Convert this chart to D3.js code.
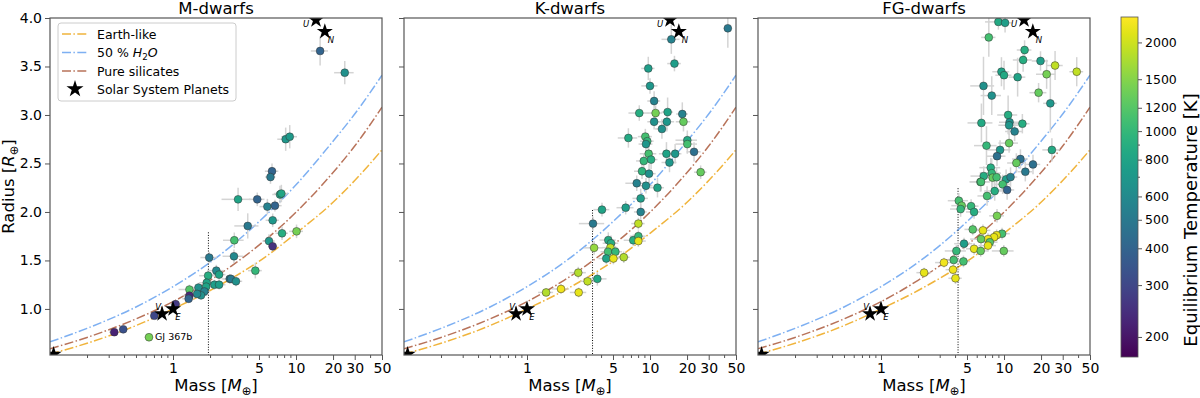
<!DOCTYPE html>
<html><head><meta charset="utf-8">
<script src="https://cdn.jsdelivr.net/npm/d3@7"></script>
<style>
body{margin:0;background:#fff}
svg{display:block}
text{font-family:"DejaVu Sans",sans-serif;fill:#000}
</style>
</head><body>
<svg id="c" width="1200" height="398"></svg>
<script>
// ---------------- data ----------------
const panelTitles = ["M-dwarfs", "K-dwarfs", "FG-dwarfs"];
const massTicks = [1, 5, 10, 20, 30, 50];
const massMinorTicks = [0.2,0.3,0.4,0.5,0.6,0.7,0.8,0.9,2,3,4,6,7,8,9,40];
const radiusTicks = [1.0, 1.5, 2.0, 2.5, 3.0, 3.5, 4.0];
const tempTicks = [200, 300, 400, 500, 600, 800, 1000, 1200, 1500, 2000];
const tempMinorTicks = [700, 900];

// composition models (mass, radius)
const modelMass = [0.1, 0.2, 0.5, 1, 2, 3, 5, 10, 20, 30, 50];
const earthLike = [0.535, 0.646, 0.828, 1.0, 1.19, 1.316, 1.49, 1.78, 2.1, 2.324, 2.64];
const water50   = [0.66, 0.80, 1.02, 1.23, 1.48, 1.653, 1.90, 2.28, 2.73, 3.01, 3.41];
const silicates = [0.59, 0.706, 0.897, 1.075, 1.295, 1.445, 1.658, 1.997, 2.407, 2.68, 3.08];

// solar system planets
const solarLabels = ["", "V", "E", "U", "N"];
const solarMass   = [0.107, 0.815, 1.0, 14.54, 17.15];
const solarRadius = [0.532, 0.949, 1.0, 3.98, 3.86];

// vertical dotted cut per panel
const cutMass = [1.94, 3.41, 4.23];
const cutTop  = [1.79, 2.02, 2.245];

// planets: [mass, radius, Teq, massErr, radiusErr]
const mDwarfs = [
 [8.24,2.75,700,1.2,0.12],[8.89,2.776,720,1.3,0.12],[6.38,2.42,400,0.8,0.08],[6.2,2.36,500,0.6,0.07],
 [3.38,2.13,800,0.9,0.12],[4.84,2.13,400,0.7,0.07],[5.85,2.055,550,0.8,0.08],[6.74,2.065,400,0.9,0.06],
 [7.41,2.18,800,1.0,0.09],[7.6,2.19,820,1.0,0.09],[4.05,1.856,500,0.9,0.13],[6.46,1.914,700,0.8,0.07],
 [3.15,1.708,1100,0.6,0.08],[10.1,1.80,1400,1.3,0.07],[7.7,1.78,900,0.9,0.07],[6.03,1.70,700,0.7,0.07],
 [6.46,1.646,250,0.5,0.05],[3.13,1.543,600,0.6,0.07],[1.97,1.53,500,0.3,0.06],[4.67,1.395,1000,0.6,0.08],
 [2.25,1.395,600,0.35,0.06],[2.37,1.354,800,0.3,0.05],[1.93,1.343,900,0.3,0.05],[1.88,1.27,800,0.25,0.05],
 [2.17,1.25,750,0.3,0.05],[2.37,1.25,750,0.3,0.05],[2.89,1.31,500,0.4,0.05],[2.96,1.31,500,0.4,0.05],
 [3.25,1.285,650,0.4,0.05],[1.86,1.23,800,0.25,0.05],[1.61,1.22,650,0.25,0.05],[1.36,1.2,1200,0.25,0.05],
 [1.8,1.18,550,0.2,0.04],[1.69,1.14,650,0.2,0.04],[1.57,1.155,600,0.2,0.04],[1.36,1.137,230,0.15,0.04],
 [1.34,1.105,400,0.15,0.03],[1.05,1.05,270,0.1,0.03],[0.705,0.93,300,0.05,0.02],[0.333,0.76,220,0.03,0.02],
 [0.394,0.79,330,0.03,0.02],[0.638,0.708,1400,0.05,0.02],[15.7,3.66,400,2.5,0.15],[24.9,3.436,650,4.5,0.12]
];
const kDwarfs = [
 [42.9,3.894,500,3,0.2],[14.9,3.78,550,2.5,0.15],[15.8,3.53,750,2,0.08],[9.68,3.48,750,1.2,0.12],
 [10.0,3.30,700,1.5,0.08],[10.8,3.144,550,1.3,0.1],[8.18,3.02,900,1.5,0.08],[11.1,3.02,1400,1.5,0.08],
 [13.9,3.03,800,1.5,0.15],[18.3,3.01,550,2,0.12],[10.8,2.93,650,1.3,0.08],[13.7,2.93,700,2,0.1],
 [18.7,2.93,1300,2.5,0.1],[12.5,2.856,650,1.5,0.1],[6.67,2.763,850,1.2,0.1],[9.16,2.777,1100,1.2,0.08],
 [9.5,2.73,1000,1.2,0.08],[9.27,2.70,700,1.2,0.1],[20.1,2.74,850,4,0.1],[20.1,2.70,1100,4,0.1],
 [9.75,2.60,1100,1.5,0.08],[13.6,2.60,800,1.8,0.12],[16.0,2.60,700,2,0.1],[22.8,2.62,450,3,0.1],
 [8.9,2.526,1000,1.2,0.08],[10.2,2.54,900,1.3,0.1],[14.4,2.51,700,2,0.1],[8.61,2.42,950,1.2,0.08],
 [9.82,2.395,650,1.3,0.1],[25.8,2.41,1300,3,0.07],[7.8,2.296,550,1.5,0.08],[9.27,2.27,650,1.2,0.08],
 [11.5,2.25,800,1.5,0.1],[8.4,2.14,750,1.2,0.1],[4.07,2.024,800,0.6,0.07],[6.34,2.044,750,1,0.07],
 [8.4,2.0,550,1,0.08],[3.44,1.88,500,0.8,0.07],[8.04,1.88,1900,1,0.06],[4.58,1.71,850,0.7,0.08],
 [4.82,1.677,900,0.7,0.08],[4.76,1.632,1900,0.7,0.08],[3.51,1.63,1600,0.6,0.07],[4.56,1.59,1100,0.6,0.07],
 [5.23,1.59,1000,0.7,0.06],[7.31,1.708,900,1.2,0.06],[8.04,1.75,1000,1.2,0.06],[8.04,1.70,2200,1.2,0.06],
 [4.41,1.52,800,0.6,0.06],[5.04,1.52,2200,0.6,0.06],[6.12,1.533,1800,0.7,0.06],[2.61,1.374,1800,0.4,0.06],
 [3.73,1.31,850,0.7,0.07],[3.11,1.285,1900,0.4,0.05],[1.89,1.206,2300,0.3,0.05],[2.63,1.17,2200,0.4,0.05],
 [1.43,1.17,1800,0.2,0.04]
];
const fgDwarfs = [
 [9.0,3.96,850,2,0.08],[10.2,3.95,750,1.5,0.1],[7.52,3.80,1100,1,0.2],[14.7,3.67,900,2,0.1],
 [14.3,3.567,900,2.5,0.12],[19.8,3.557,750,3,0.1],[26.0,3.51,1900,4,0.15],[39.0,3.446,1900,5,0.15],
 [22.2,3.42,1400,4,0.15],[9.53,3.446,800,1.5,0.15],[10.0,3.41,850,1.5,0.15],[12.9,3.39,800,2,0.2],
 [6.81,3.30,650,1.5,0.3],[7.95,3.2,650,1.5,0.2],[19.1,3.23,1300,3,0.1],[23.8,3.12,700,3,0.3],
 [10.8,3.0,900,2,0.2],[6.55,2.918,850,1.5,0.2],[11.1,2.925,650,2,0.1],[11.0,2.894,700,2,0.1],
 [14.1,2.91,900,2,0.1],[12.2,2.83,550,2,0.1],[7.2,2.684,1000,1.5,0.2],[11.0,2.71,1300,2,0.1],
 [9.29,2.64,700,2,0.1],[8.77,2.575,450,1.5,0.1],[24.5,2.64,850,4,0.12],[13.6,2.546,450,2,0.1],
 [12.6,2.505,1300,2,0.1],[17.2,2.49,450,2.5,0.1],[7.8,2.457,900,1.5,0.1],[14.9,2.415,500,2,0.1],
 [7.95,2.40,1000,1.5,0.15],[8.08,2.354,1300,1.5,0.1],[8.7,2.358,1100,1.5,0.1],[6.84,2.37,900,1.5,0.1],
 [6.43,2.31,1100,1.2,0.1],[6.5,2.31,1100,1.2,0.1],[10.4,2.337,750,1.5,0.1],[11.3,2.36,550,1.5,0.1],
 [9.75,2.285,1100,1.5,0.1],[10.6,2.227,400,1.5,0.1],[8.4,2.216,900,1.5,0.1],[7.28,2.165,1100,1.2,0.1],
 [4.29,2.116,1100,0.8,0.08],[4.53,2.065,1300,0.8,0.08],[4.44,2.03,1000,0.8,0.08],[5.4,2.06,1000,0.8,0.07],
 [5.71,2.0,900,0.8,0.07],[8.77,1.96,1400,1.2,0.07],[5.57,1.82,1200,0.8,0.06],[6.74,1.81,2200,1,0.06],
 [9.64,1.776,1100,1.5,0.06],[8.71,1.76,2200,1.2,0.06],[8.3,1.74,2200,1.2,0.06],[7.41,1.72,2300,1.2,0.06],
 [6.5,1.72,1300,1.2,0.06],[7.66,1.688,1200,1.2,0.06],[7.41,1.653,2200,1.2,0.06],[4.73,1.673,750,0.8,0.06],
 [5.71,1.62,2200,0.8,0.06],[6.46,1.598,1300,1,0.06],[9.96,1.598,1300,2,0.06],[4.1,1.598,1000,0.8,0.06],
 [3.9,1.505,1100,0.6,0.06],[4.68,1.49,1100,0.6,0.06],[3.25,1.478,2300,0.5,0.05],[3.85,1.405,2300,0.5,0.05],
 [2.24,1.374,2200,0.3,0.05],[4.03,1.316,2200,0.5,0.06]
];
const annotName = "GJ 367b";
const annotPoint = [0.638, 0.708];

// ---------------- drawing ----------------
const svg = d3.select("#c");
const plotTop = 18, plotBottom = 355, plotW = 332;
const lefts = [50, 404, 758];
const frameColor = "#555";

const models = [
  {name: "Earth-like", values: earthLike, color: "#f0b43c"},
  {name: "water", values: water50, color: "#7eb0f2"},
  {name: "Pure silicates", values: silicates, color: "#b8735a"}
];
const datasets = [mDwarfs, kDwarfs, fgDwarfs];

const y = d3.scaleLinear().domain([0.525, 4.0]).range([plotBottom, plotTop]);
const tMin = 171, tMax = 2440;
const color = d3.scaleSequentialLog(d3.interpolateViridis).domain([tMin, tMax]);
const dash = "9,2.4,1.5,2.4";

function mathLabel(sel, pre, sym, fs) {
  const sh = fs * 0.25;
  sel.append("tspan").text(pre);
  sel.append("tspan").attr("font-style", "italic").text(sym);
  sel.append("tspan").attr("font-size", fs * 0.7).attr("dy", sh).text("⊕");
  sel.append("tspan").attr("dy", -sh).text("]");
}

datasets.forEach((data, i) => {
  const L = lefts[i];
  const x = d3.scaleLog().domain([0.1, 50]).range([L, L + plotW]);
  const g = svg.append("g");
  const clipId = "clip" + i;
  svg.append("clipPath").attr("id", clipId).append("rect")
    .attr("x", L).attr("y", plotTop).attr("width", plotW).attr("height", plotBottom - plotTop);
  const pg = g.append("g").attr("clip-path", `url(#${clipId})`);

  // models
  models.forEach(m => {
    const line = d3.line().x((d, j) => x(modelMass[j])).y(d => y(d)).curve(d3.curveMonotoneX);
    pg.append("path").datum(m.values).attr("d", line)
      .attr("fill", "none").attr("stroke", m.color).attr("stroke-width", 1.5)
      .attr("stroke-dasharray", dash);
  });

  // vertical dotted cut
  pg.append("line")
    .attr("x1", x(cutMass[i])).attr("x2", x(cutMass[i]))
    .attr("y1", y(cutTop[i])).attr("y2", plotBottom)
    .attr("stroke", "#000").attr("stroke-width", 1).attr("stroke-dasharray", "1,1.6");

  // error bars
  const eg = pg.append("g").attr("stroke", "#d0d0d0").attr("stroke-width", 1.5).attr("opacity", 0.9);
  data.forEach(d => {
    eg.append("line").attr("x1", x(Math.max(d[0] - d[3], 0.01))).attr("x2", x(d[0] + d[3]))
      .attr("y1", y(d[1])).attr("y2", y(d[1]));
    eg.append("line").attr("x1", x(d[0])).attr("x2", x(d[0]))
      .attr("y1", y(d[1] - d[4])).attr("y2", y(d[1] + d[4]));
  });

  // points
  pg.append("g").selectAll("circle").data(data).join("circle")
    .attr("cx", d => x(d[0])).attr("cy", d => y(d[1])).attr("r", 3.9)
    .attr("fill", d => color(d[2])).attr("stroke", "#333").attr("stroke-width", 0.5);

  // solar system stars
  const star = d3.symbol().type(d3.symbolStar).size(80);
  solarMass.forEach((m, k) => {
    pg.append("path").attr("d", star())
      .attr("transform", `translate(${x(m)},${y(solarRadius[k])})`).attr("fill", "#000");
  });
  const labOff = {V: [-4, -6], E: [5, 9], U: [-10, 5], N: [6, 9]};
  solarLabels.forEach((lab, k) => {
    if (!lab) return;
    g.append("text").attr("x", x(solarMass[k]) + labOff[lab][0]).attr("y", y(solarRadius[k]) + labOff[lab][1])
      .attr("font-size", 8.5).attr("font-style", "italic").attr("text-anchor", "middle")
      .attr("dominant-baseline", "middle").style("fill", "#000").text(lab);
  });

  if (i === 0) {
    g.append("text").attr("x", x(annotPoint[0]) + 6).attr("y", y(annotPoint[1]))
      .attr("font-size", 9.5).attr("dominant-baseline", "middle").text(annotName);
  }

  // frame
  g.append("rect").attr("x", L).attr("y", plotTop).attr("width", plotW).attr("height", plotBottom - plotTop)
    .attr("fill", "none").attr("stroke", frameColor).attr("stroke-width", 1.2);

  // x axis
  const xa = g.append("g").attr("transform", `translate(0,${plotBottom})`)
    .call(d3.axisBottom(x).tickValues(massTicks).tickFormat(d3.format("d")).tickSize(5).tickPadding(3));
  const xm = g.append("g").attr("transform", `translate(0,${plotBottom})`)
    .call(d3.axisBottom(x).tickValues(massMinorTicks).tickFormat("").tickSize(3));
  [xa, xm].forEach(a => { a.select(".domain").remove(); a.selectAll("line").attr("stroke", frameColor); });
  xa.selectAll("text").attr("font-size", 14).attr("font-family", "DejaVu Sans").attr("fill", "#000");

  // y axis
  const ya = g.append("g").attr("transform", `translate(${L},0)`)
    .call(d3.axisLeft(y).tickValues(radiusTicks).tickFormat(i === 0 ? d3.format(".1f") : "").tickSize(5).tickPadding(3));
  ya.select(".domain").remove();
  ya.selectAll("line").attr("stroke", frameColor);
  ya.selectAll("text").attr("font-size", 14).attr("font-family", "DejaVu Sans").attr("fill", "#000");

  // title
  g.append("text").attr("x", L + plotW / 2).attr("y", 14).attr("text-anchor", "middle")
    .attr("font-size", 16.5).text(panelTitles[i]);

  // x label
  const xl = g.append("text").attr("x", L + plotW / 2).attr("y", 391).attr("text-anchor", "middle")
    .attr("font-size", 16.5);
  mathLabel(xl, "Mass [", "M", 16.5);
});

// y label
const yl = svg.append("text").attr("transform", `translate(14,${(plotTop + plotBottom) / 2}) rotate(-90)`)
  .attr("text-anchor", "middle").attr("font-size", 16.5);
mathLabel(yl, "Radius [", "R", 16.5);

// legend
const lg = svg.append("g");
lg.append("rect").attr("x", 58).attr("y", 23).attr("width", 178).attr("height", 78).attr("rx", 3)
  .attr("fill", "#fff").attr("fill-opacity", 0.8).attr("stroke", "#ccc");
const legY = [34, 52.5, 71, 89];
models.forEach((m, k) => {
  lg.append("line").attr("x1", 62).attr("x2", 88).attr("y1", legY[k]).attr("y2", legY[k])
    .attr("stroke", m.color).attr("stroke-width", 1.5).attr("stroke-dasharray", dash);
});
const legText = (k) => lg.append("text").attr("x", 97).attr("y", legY[k] + 4.5).attr("font-size", 12.5);
legText(0).text("Earth-like");
const wt = legText(1);
wt.append("tspan").text("50 % ");
wt.append("tspan").attr("font-style", "italic").text("H");
wt.append("tspan").attr("font-size", 8.75).attr("dy", 3).text("2");
wt.append("tspan").attr("font-style", "italic").attr("dy", -3).text("O");
legText(2).text("Pure silicates");
legText(3).text("Solar System Planets");
lg.append("path").attr("d", d3.symbol().type(d3.symbolStar).size(90)()).attr("transform", `translate(75,${legY[3]})`);

// colorbar
const cbX = 1121, cbW = 17, cbTop = 17, cbBot = 357;
const defs = svg.append("defs");
const grad = defs.append("linearGradient").attr("id", "vir").attr("x1", 0).attr("y1", 1).attr("x2", 0).attr("y2", 0);
d3.range(0, 1.0001, 0.05).forEach(t => grad.append("stop").attr("offset", t).attr("stop-color", d3.interpolateViridis(t)));
svg.append("rect").attr("x", cbX).attr("y", cbTop).attr("width", cbW).attr("height", cbBot - cbTop)
  .attr("fill", "url(#vir)").attr("stroke", frameColor).attr("stroke-width", 0.8);
const cScale = d3.scaleLog().domain([tMin, tMax]).range([cbBot, cbTop]);
const ca = svg.append("g").attr("transform", `translate(${cbX + cbW},0)`)
  .call(d3.axisRight(cScale).tickValues(tempTicks).tickFormat(d3.format("d")).tickSize(4).tickPadding(3));
const cm = svg.append("g").attr("transform", `translate(${cbX + cbW},0)`)
  .call(d3.axisRight(cScale).tickValues(tempMinorTicks).tickFormat("").tickSize(2));
[ca, cm].forEach(a => { a.select(".domain").remove(); a.selectAll("line").attr("stroke", frameColor); });
ca.selectAll("text").attr("font-size", 12.5).attr("font-family", "DejaVu Sans").attr("fill", "#000");
svg.append("text").attr("transform", `translate(1190,220) rotate(-90)`).attr("text-anchor", "middle")
  .attr("dominant-baseline", "central").attr("font-size", 18).text("Equilibrium Temperature [K]");
</script>
</body></html>
